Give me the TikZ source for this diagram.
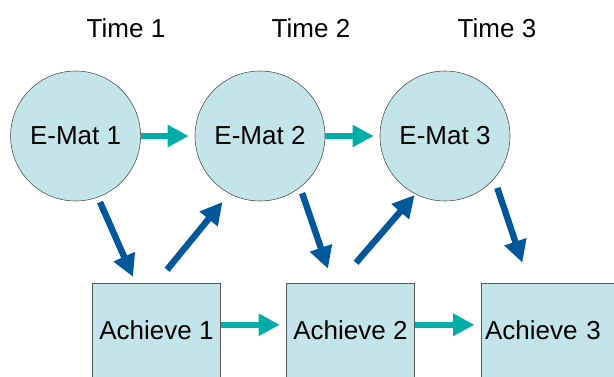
\documentclass[tikz,border=0pt]{standalone}
\usepackage{fontspec}
\setmainfont{Liberation Sans}
\usetikzlibrary{arrows.meta}

\definecolor{nodeFill}{HTML}{C3E4E8}
\definecolor{stabTeal}{HTML}{00ADA9}
\definecolor{crossBlue}{HTML}{00579A}

\tikzset{
    labelFont/.style={font=\fontsize{18.5}{22}\selectfont},
    ematNode/.style={circle, draw=black!70, thin, fill=nodeFill, minimum size=3.25cm, inner sep=0pt, labelFont},
    achieveNode/.style={rectangle, draw=black!65, thin, fill=nodeFill, minimum width=3.2cm, minimum height=2.35cm, inner sep=0pt, labelFont},
    stabArrow/.style={-{Triangle[length=0.53cm,width=0.53cm]}, line width=0.15cm, stabTeal},
    crossArrow/.style={-{Triangle[length=0.55cm,width=0.55cm]}, line width=0.16cm, crossBlue}
}

\begin{document}
\begin{tikzpicture}
    % Fix the page size
    \useasboundingbox (0,0) rectangle (15.35,9.4);
    \clip (0,0) rectangle (15.35,9.4);

    % Time labels
    \node[labelFont] (time1) at (3.15,8.7) {Time 1};
    \node[labelFont] (time2) at (7.775,8.7) {Time 2};
    \node[labelFont] (time3) at (12.425,8.7) {Time 3};

    % E-Mat circles
    \node[ematNode] (emat1) at (1.89,6.0) {E-Mat 1};
    \node[ematNode] (emat2) at (6.5,6.0) {E-Mat 2};
    \node[ematNode] (emat3) at (11.125,6.0) {E-Mat 3};

    % Achievement boxes (the last one runs off the page)
    \node[achieveNode] (ach1) at (3.91,1.15) {Achieve 1};
    \node[achieveNode] (ach2) at (8.76,1.15) {Achieve 2};
    \node[achieveNode, anchor=west, inner xsep=0.1cm, text width=3.4cm, align=left] (ach3) at (12.02,1.15) {Achieve 3};

    % Stability paths
    \draw[stabArrow, shorten >=0.15cm] (emat1) -- (emat2);
    \draw[stabArrow, shorten >=0.15cm] (emat2) -- (emat3);
    \draw[stabArrow, shorten >=0.16cm] ([yshift=0.13cm]ach1.east) -- ([yshift=0.13cm]ach2.west);
    \draw[stabArrow, shorten >=0.16cm] ([yshift=0.13cm]ach2.east) -- ([yshift=0.13cm]ach3.west);

    % Cross-lagged paths
    \draw[crossArrow, shorten <=0.13cm, shorten >=0.16cm] (emat1.-70) -- ([xshift=-0.52cm]ach1.north);
    \draw[crossArrow, shorten <=0.42cm, shorten >=0.27cm] (ach1.north) -- (emat2.242);
    \draw[crossArrow, shorten <=0.15cm, shorten >=0.37cm] (emat2.-52) -- ([xshift=-0.44cm]ach2.north);
    \draw[crossArrow, shorten <=0.66cm, shorten >=0.03cm] ([xshift=-0.29cm]ach2.north) -- (emat3.243);
    \draw[crossArrow, shorten <=0.24cm, shorten >=0.53cm] (emat3.-41) -- ([xshift=-0.60cm]ach3.north);

\end{tikzpicture}
\end{document}
